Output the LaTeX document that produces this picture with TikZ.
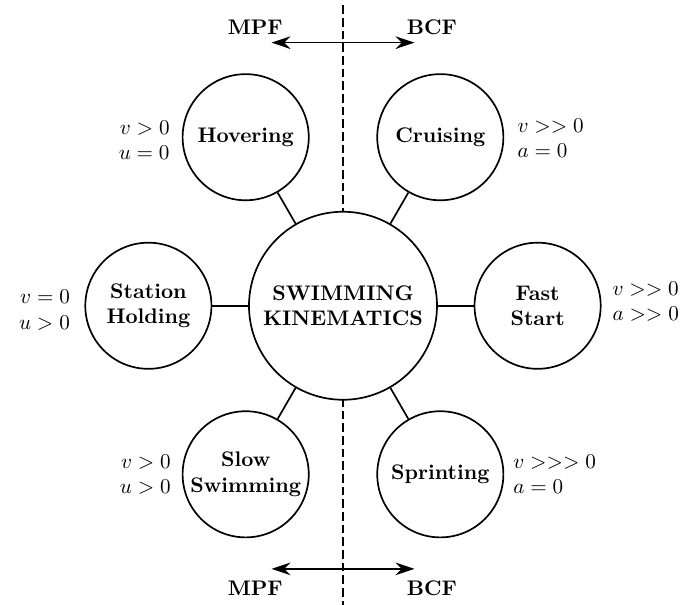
\documentclass[tikz,border=0pt]{standalone}
\usetikzlibrary{arrows.meta}
\begin{document}
\begin{tikzpicture}
        \tikzset{mode/.style={circle, draw, thick, fill=white, align=center,
                              font=\bfseries, inner sep=1pt, minimum size=2.1cm},
                 hub/.style={mode, minimum size=3.13cm},
                 cond/.style={inner sep=0pt},
                 split/.style={thick, {Stealth[length=9pt,width=6pt]}-{Stealth[length=9pt,width=6pt]}}}
        \useasboundingbox (-5.71, -4.98) rectangle (5.71, 5.09);

        \draw[semithick, dash pattern=on 4pt off 2pt] (0.0, 5.0) -- (0.0, -4.98);

        \node[hub] (kin) at (0.0, 0.0) {SWIMMING\\KINEMATICS};

        \node[mode] (hov) at (120:3.24) {Hovering};
        \node[mode] (cru) at (60:3.24)  {Cruising};
        \node[mode] (sta) at (180:3.24) {Station\\Holding};
        \node[mode] (fst) at (0:3.24)   {Fast\\Start};
        \node[mode] (slo) at (240:3.24) {Slow\\Swimming};
        \node[mode] (spr) at (300:3.24) {Sprinting};

        \foreach \m in {hov, cru, sta, fst, slo, spr}
                \draw[thick] (kin) -- (\m);

        \node[cond, anchor=east, align=right] (hovc) at (-2.88, 2.76)  {$v > 0$\\$u = 0$};
        \node[cond, anchor=west, align=left]  (cruc) at (2.90, 2.79)   {$v >> 0$\\$a = 0$};
        \node[cond, anchor=east, align=right] (stac) at (-4.54, -0.07) {$v = 0$\\$u > 0$};
        \node[cond, anchor=west, align=left]  (fstc) at (4.48, 0.07)   {$v >> 0$\\$a >> 0$};
        \node[cond, anchor=east, align=right] (sloc) at (-2.86, -2.81) {$v > 0$\\$u > 0$};
        \node[cond, anchor=west, align=left]  (sprc) at (2.83, -2.80)  {$v >>> 0$\\$a = 0$};

        % propulsion modes
        \coordinate (topl) at (-1.19, 4.38);
        \coordinate (topr) at (1.19, 4.38);
        \coordinate (botl) at (-1.19, -4.38);
        \coordinate (botr) at (1.19, -4.38);
        \draw[split] (topl) -- (topr);
        \draw[split] (botl) -- (botr);

        \node[font=\bfseries] (mpft) at (-1.46, 4.64)  {MPF};
        \node[font=\bfseries] (bcft) at (1.48, 4.64)   {BCF};
        \node[font=\bfseries] (mpfb) at (-1.46, -4.71) {MPF};
        \node[font=\bfseries] (bcfb) at (1.48, -4.71)  {BCF};
\end{tikzpicture}
\end{document}
